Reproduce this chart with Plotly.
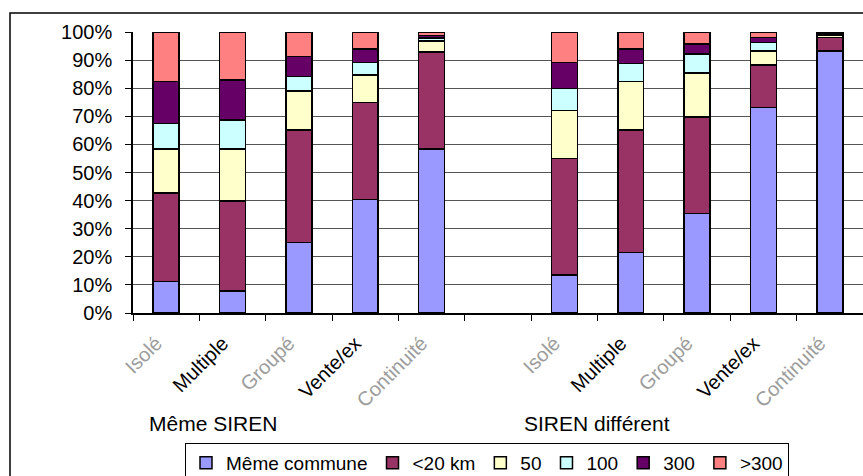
import plotly.graph_objects as go

# ---- data ----
types = ["Isolé", "Multiple", "Groupé", "Vente/ex", "Continuité"]
groups = ["Même SIREN", "SIREN différent"]
series = ["Même commune", "<20 km", "50", "100", "300", ">300"]

# values per series: first 5 = Même SIREN, last 5 = SIREN différent
meme_commune = [11.2, 7.8, 25.1, 40.4, 58.3, 13.5, 21.6, 35.4, 73.2, 93.2]
moins_20km   = [31.5, 32.0, 40.1, 34.6, 34.5, 41.5, 43.6, 34.4, 15.0, 4.8]
km_50        = [15.6, 18.5, 13.8, 9.7, 4.0, 17.0, 17.2, 15.6, 5.1, 1.0]
km_100       = [9.2, 10.4, 5.2, 4.5, 1.0, 7.9, 6.4, 6.8, 3.0, 0.3]
km_300       = [14.9, 14.3, 7.0, 4.7, 1.0, 9.3, 5.1, 3.5, 1.8, 0.5]
plus_300     = [17.6, 17.0, 8.8, 6.1, 1.2, 10.8, 6.1, 4.3, 1.9, 0.2]

values = [meme_commune, moins_20km, km_50, km_100, km_300, plus_300]
colors = ["#9999FF", "#993366", "#FFFFCC", "#CCFFFF", "#660066", "#FF8080"]
grey_labels = {"Isolé", "Groupé", "Continuité"}

# ---- categories: group 1, empty slot, group 2 ----
gap_key = " "
keys = [f"{groups[0]}|{t}" for t in types] + [gap_key] + [f"{groups[1]}|{t}" for t in types]

def lab(t):
    if t in grey_labels:
        return f"<span style='color:#9c9c9c'>{t}</span>"
    return t

ticktext = [lab(t) for t in types] + [""] + [lab(t) for t in types]

FONT = "Arial, 'Liberation Sans', sans-serif"

fig = go.Figure()
for name, vals, col in zip(series, values, colors):
    yv = vals[:5] + [None] + vals[5:]
    fig.add_trace(go.Bar(
        x=keys, y=yv, name=name,
        marker=dict(color=col, line=dict(color="black", width=1.5)),
        width=0.39,
    ))

W, H = 863, 476
L, R, T, B = 133, 0, 32, 163
pw, ph = W - L - R, H - T - B

def px_x(x):
    return (x - L) / pw

def px_y(y):
    return (H - B - y) / ph

fig.update_layout(
    width=W, height=H,
    margin=dict(l=L, r=R, t=T, b=B, pad=0, autoexpand=False),
    barmode="stack", barnorm="percent",
    paper_bgcolor="white", plot_bgcolor="white",
    font=dict(family=FONT, color="black", size=20),
    showlegend=True,
    legend=dict(
        orientation="h", x=px_x(185), y=px_y(443), xanchor="left", yanchor="top",
        bordercolor="black", borderwidth=1, bgcolor="white",
        font=dict(size=19, family=FONT, color="black"),
        traceorder="normal", itemwidth=30, tracegroupgap=0,
    ),
    xaxis=dict(
        type="category", categoryorder="array", categoryarray=keys,
        tickmode="array", tickvals=keys, ticktext=ticktext,
        tickson="boundaries", ticks="outside", ticklen=6, tickcolor="black",
        tickangle=-45, tickfont=dict(size=20, family=FONT, color="black"),
        showline=True, linecolor="black", linewidth=1.5,
        showgrid=False, range=[-0.5, 10.5], fixedrange=True,
        automargin=False, ticklabelstandoff=9, ticklabelshift=-10,
    ),
    yaxis=dict(
        range=[0, 100], dtick=10, ticksuffix="%",
        ticks="outside", ticklen=6, tickcolor="black",
        tickfont=dict(size=20, family=FONT, color="black"),
        showline=True, linecolor="black", linewidth=1.5,
        showgrid=True, gridcolor="#555555", gridwidth=1,
        zeroline=False, fixedrange=True, ticklabelstandoff=9,
        automargin=False,
    ),
    annotations=[
        dict(text=groups[0], xref="paper", yref="paper", x=px_x(213), y=px_y(423),
             showarrow=False, font=dict(size=21, family=FONT, color="black"),
             xanchor="center", yanchor="middle"),
        dict(text=groups[1], xref="paper", yref="paper", x=px_x(597), y=px_y(423),
             showarrow=False, font=dict(size=21, family=FONT, color="black"),
             xanchor="center", yanchor="middle"),
    ],
    shapes=[
        dict(type="rect", xref="paper", yref="paper",
             x0=px_x(10), y0=px_y(13), x1=px_x(W + 20), y1=px_y(H + 20),
             line=dict(color="black", width=1.5), fillcolor="rgba(0,0,0,0)", layer="below"),
    ],
)

fig.write_html(
    "out.html",
    config={"displayModeBar": False},
    post_script="document.body.style.margin='0';document.body.style.overflow='hidden';",
)
